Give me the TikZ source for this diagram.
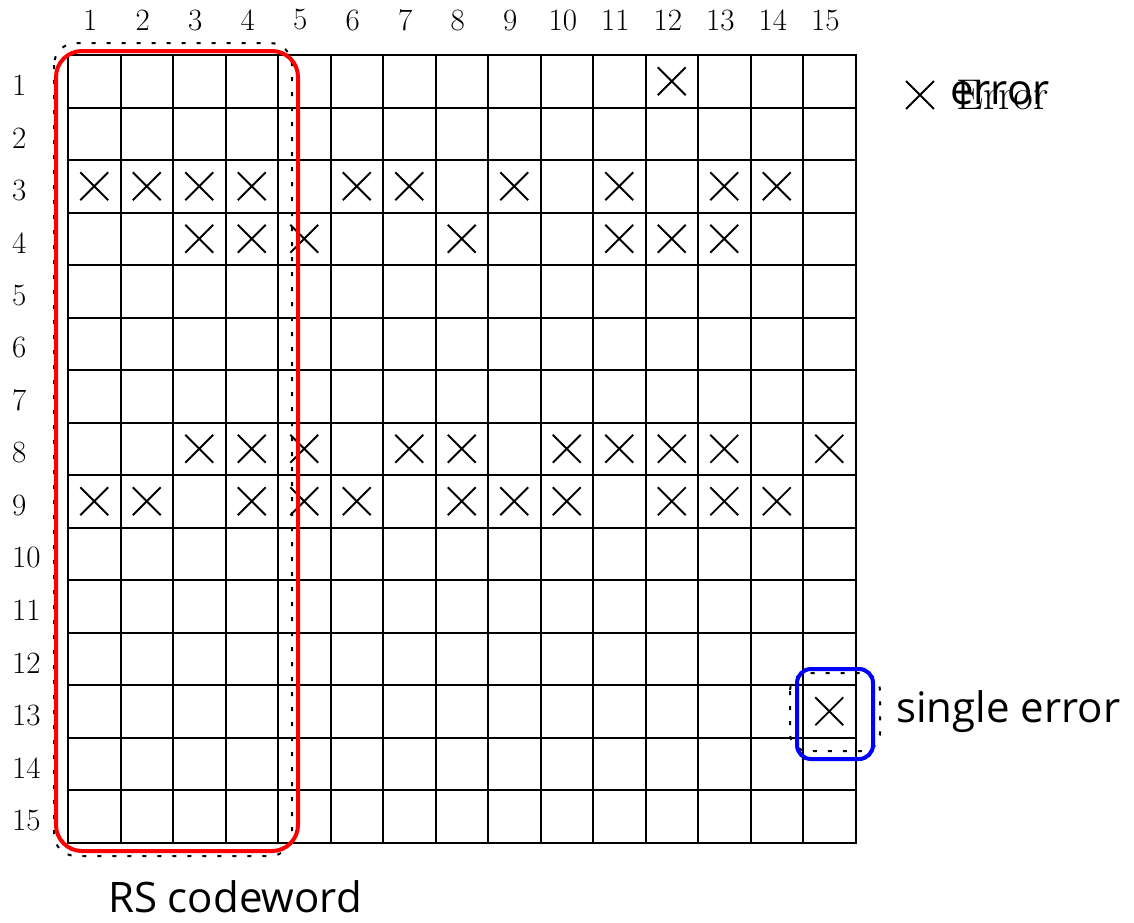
\documentclass[tikz,border=0pt]{standalone}
\usepackage{fontspec}
\newfontfamily\sansf{Open Sans}
\usetikzlibrary{shapes.misc}
\begin{document}
\begin{tikzpicture}[x=1pt,y=-1pt,
  gridline/.style={line width=2pt, line cap=rect},
  errmark/.style={cross out, draw, line width=1.8pt, minimum size=26pt, inner sep=0pt},
  numlbl/.style={font=\fontsize{31}{31}\selectfont, inner sep=0pt},
  sanslbl/.style={font=\sansf\fontsize{42}{42}\selectfont, inner sep=0pt},
  dots/.style={line width=2pt, dash pattern=on 4pt off 11pt},
  codebox/.style={draw=red, line width=4pt, rounded corners=26pt},
  singlebox/.style={draw=blue, line width=4pt, rounded corners=14pt}]
\useasboundingbox (0,0) rectangle (1134,922);
% grid
\foreach \i in {0,...,15} {
  \draw[gridline] ({68+\i*52.5},55) -- ({68+\i*52.5},842.5);
  \draw[gridline] (68,{55+\i*52.5}) -- (855.5,{55+\i*52.5});
}
% column and row numbers
\foreach \c in {1,...,15}
  \node[numlbl] (col\c) at ({68+(\c-0.5)*52.5-4},20) {\c};
\foreach \r in {1,...,15}
  \node[numlbl, anchor=west] (row\r) at (12,{55+(\r-0.5)*52.5+4}) {\r};
% errors
\foreach \r/\c in {1/12,
  3/1,3/2,3/3,3/4,3/6,3/7,3/9,3/11,3/13,3/14,
  4/3,4/4,4/5,4/8,4/11,4/12,4/13,
  8/3,8/4,8/5,8/7,8/8,8/10,8/11,8/12,8/13,8/15,
  9/1,9/2,9/4,9/5,9/6,9/8,9/9,9/10,9/12,9/13,9/14,
  13/15}
  \node[errmark] (e-\r-\c) at ({68+(\c-0.5)*52.5},{55+(\r-0.5)*52.5}) {};
% RS codeword boxes
\draw[dots, rounded corners=22pt] (54,43) rectangle (292,856);
\draw[codebox] (56,51) rectangle (298,851);
\node[sanslbl] (rs) at (235,897) {RS codeword};
% single error boxes
\draw[dots, rounded corners=18pt] (790,673) rectangle (880,751);
\draw[singlebox] (797,669) rectangle (873,759);
\node[sanslbl, anchor=west] (single) at (896,712) {single error};
% legend
\node[errmark] (legx) at (920,95) {};
\node[sanslbl, anchor=west] (legerr) at (950,93) {error};
\node[font=\fontsize{43}{43}\selectfont, inner sep=0pt, anchor=west] (legErr) at (956,95) {Error};
\end{tikzpicture}
\end{document}
